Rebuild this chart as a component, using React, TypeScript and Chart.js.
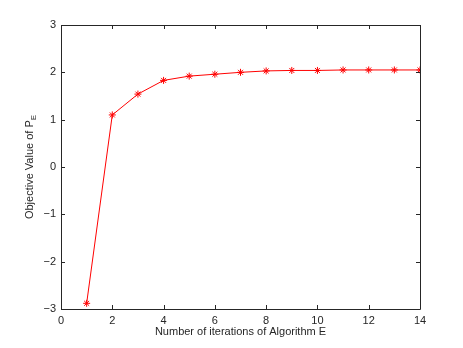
import React, { useEffect, useRef } from "react";
import { Chart, registerables } from "chart.js";

Chart.register(...registerables);

const iterations = [1, 2, 3, 4, 5, 6, 7, 8, 9, 10, 11, 12, 13, 14];
const objectiveValues = [-2.88, 1.1, 1.54, 1.83, 1.92, 1.96, 2.0, 2.03, 2.04, 2.04, 2.05, 2.05, 2.05, 2.05];
const xTicks = [0, 2, 4, 6, 8, 10, 12, 14];
const yTicks = [-3, -2, -1, 0, 1, 2, 3];
const xTitle = "Number of iterations of Algorithm E";
const yTitleMain = "Objective Value of P";
const yTitleSub = "E";

const FONT = "'Liberation Sans', Arial, Helvetica, sans-serif";

const framePlugin = {
  id: "matlabFrame",
  afterDraw(chart: any) {
    const ctx = chart.ctx;
    const { left, right, top, bottom } = chart.chartArea;
    const xs = chart.scales.x;
    const ys = chart.scales.y;
    ctx.save();
    ctx.strokeStyle = "#262626";
    ctx.lineWidth = 1;
    ctx.beginPath();
    ctx.rect(Math.round(left) + 0.5, Math.round(top) + 0.5, Math.round(right - left), Math.round(bottom - top));
    ctx.stroke();
    const tl = 4;
    ctx.beginPath();
    xTicks.forEach((v) => {
      const px = Math.round(xs.getPixelForValue(v)) + 0.5;
      ctx.moveTo(px, bottom);
      ctx.lineTo(px, bottom - tl);
      ctx.moveTo(px, top);
      ctx.lineTo(px, top + tl);
    });
    yTicks.forEach((v) => {
      const py = Math.round(ys.getPixelForValue(v)) + 0.5;
      ctx.moveTo(left, py);
      ctx.lineTo(left + tl, py);
      ctx.moveTo(right, py);
      ctx.lineTo(right - tl, py);
    });
    ctx.stroke();

    // titles
    ctx.fillStyle = "#262626";
    ctx.font = `11px ${FONT}`;
    ctx.textAlign = "center";
    ctx.textBaseline = "middle";
    ctx.fillText(xTitle, (left + right) / 2, 332);

    ctx.translate(30, (top + bottom) / 2);
    ctx.rotate(-Math.PI / 2);
    const wMain = ctx.measureText(yTitleMain).width;
    ctx.font = `8px ${FONT}`;
    const wSub = ctx.measureText(yTitleSub).width;
    const total = wMain + wSub;
    ctx.textAlign = "left";
    ctx.font = `11px ${FONT}`;
    ctx.fillText(yTitleMain, -total / 2, 0);
    ctx.font = `8px ${FONT}`;
    ctx.fillText(yTitleSub, -total / 2 + wMain, 4);
    ctx.restore();
  },
};

export default function App() {
  const canvasRef = useRef<HTMLCanvasElement | null>(null);

  useEffect(() => {
    document.body.style.margin = "0";
    const canvas = canvasRef.current;
    if (!canvas) return;
    const chart = new Chart(canvas, {
      type: "line",
      data: {
        datasets: [
          {
            data: iterations.map((x, i) => ({ x, y: objectiveValues[i] })),
            borderColor: "#ff0000",
            backgroundColor: "#ff0000",
            borderWidth: 1,
            pointStyle: "star",
            pointRadius: 3.5,
            pointBorderWidth: 1,
            pointBorderColor: "#ff0000",
            tension: 0,
          },
        ],
      },
      options: {
        animation: false,
        responsive: false,
        maintainAspectRatio: false,
        layout: { padding: { left: 0, top: 25, right: 43, bottom: 0 } },
        plugins: { legend: { display: false }, tooltip: { enabled: false } },
        scales: {
          x: {
            type: "linear",
            min: 0,
            max: 14,
            afterFit(scale: any) {
              scale.height = 39;
            },
            afterBuildTicks(scale: any) {
              scale.ticks = xTicks.map((v) => ({ value: v }));
            },
            grid: { display: false, drawTicks: false },
            border: { display: false },
            ticks: {
              padding: 5,
              color: "#262626",
              font: { family: FONT, size: 11 },
              maxRotation: 0,
              callback: (v: any) => String(v),
            },
          },
          y: {
            type: "linear",
            min: -3,
            max: 3,
            afterFit(scale: any) {
              scale.width = 61;
            },
            afterBuildTicks(scale: any) {
              scale.ticks = yTicks.map((v) => ({ value: v }));
            },
            grid: { display: false, drawTicks: false },
            border: { display: false },
            ticks: {
              padding: 5,
              color: "#262626",
              font: { family: FONT, size: 11 },
              callback: (v: any) => String(v).replace("-", "\u2212"),
            },
          },
        },
      },
      plugins: [framePlugin],
    });
    return () => chart.destroy();
  }, []);

  return (
    <div style={{ position: "absolute", left: 0, top: 0, width: 463, height: 348, background: "#fff" }}>
      <canvas ref={canvasRef} width={463} height={348} style={{ width: 463, height: 348 }} />
    </div>
  );
}
